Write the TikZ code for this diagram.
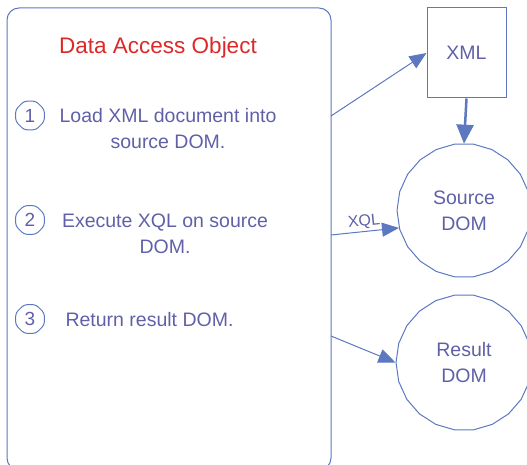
\documentclass[tikz,border=0pt]{standalone}
\usepackage{fontspec}
\setmainfont{Liberation Sans}
\usetikzlibrary{arrows.meta,shapes.geometric}

\definecolor{daoline}{RGB}{91,120,192}
\definecolor{daotext}{RGB}{96,96,168}
\definecolor{daored}{RGB}{220,40,40}

\tikzset{
  daobox/.style={draw=daoline, line width=1pt, rounded corners=12pt, minimum width=324pt, minimum height=462pt},
  title/.style={text=daored, font=\fontsize{22.5}{27}\selectfont},
  steptext/.style={text=daotext, align=center, font=\fontsize{19.5}{26}\selectfont},
  stepnum/.style={draw=daoline, line width=1pt, regular polygon, regular polygon sides=8, rounded corners=3pt, minimum size=31pt, inner sep=0pt, text=daotext, font=\fontsize{19}{22}\selectfont},
  filebox/.style={draw=daoline, line width=1pt, minimum width=79pt, minimum height=90pt, text=daotext, font=\fontsize{19.5}{26}\selectfont},
  dombox/.style={draw=daoline, line width=1pt, regular polygon, regular polygon sides=22, inner sep=0pt, align=center, text=daotext, font=\fontsize{19.5}{26}\selectfont},
  flow/.style={draw=daoline, line width=1pt, -{Triangle[length=17pt,width=14pt]}},
  bigflow/.style={draw=daoline, line width=2.5pt, -{Triangle[length=19pt,width=17pt]}},
  xqltext/.style={text=daotext, font=\fontsize{16}{19}\selectfont, inner sep=2pt}
}

\begin{document}
\begin{tikzpicture}[x=1pt,y=-1pt]
\useasboundingbox (0,0) rectangle (527,465);

% data access object
\node [daobox] (dao) at (169,239) {};
\node [title, anchor=base] (title) at (158,54) {Data Access Object};

\node [stepnum] (num1) at (30,115.5) {1};
\node [stepnum] (num2) at (30,220) {2};
\node [stepnum] (num3) at (30,319) {3};

% base = last line
\node [steptext, anchor=base] (load) at (168,149) {Load XML document into\\source DOM.};
\node [steptext, anchor=base] (exec) at (165,253) {Execute XQL on source\\DOM.};
\node [steptext, anchor=base] (ret) at (149.5,326) {Return result DOM.};

% files and DOMs
\node [filebox] (xml) at (466.5,53) {XML};
\node [dombox, minimum size=134pt] (src) at (464,210.5) {Source\\DOM};
\node [dombox, minimum size=136pt] (res) at (464,362.5) {Result\\DOM};

\coordinate (out1) at (331,116);
\coordinate (out2) at (331,235);
\coordinate (out3) at (331,336);

\draw [flow] (out1) -- (xml.west);
\draw [bigflow] (xml.south) -- (src.north);
\draw [flow] (out2) -- node [sloped, above, xqltext] {XQL} (src.195);
\draw [flow] (out3) -- (res.west);

\end{tikzpicture}
\end{document}
